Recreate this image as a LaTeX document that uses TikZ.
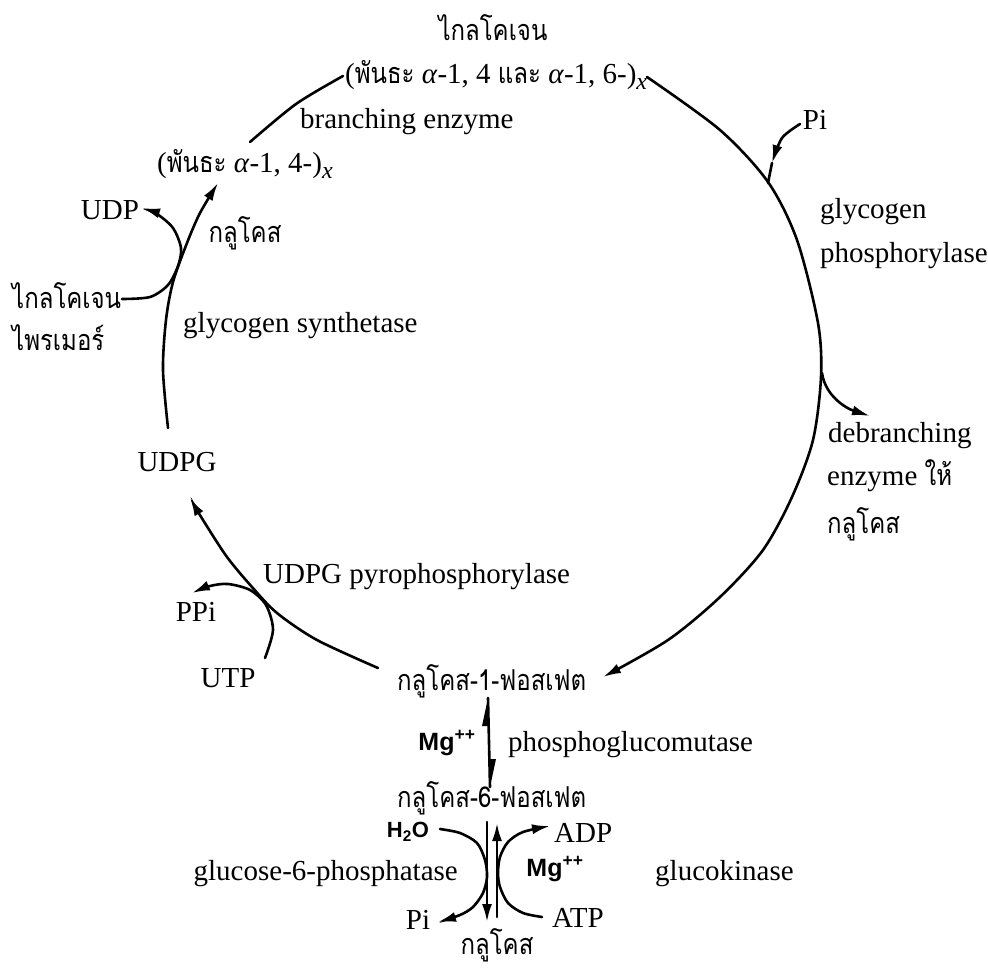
\documentclass[tikz,border=0pt]{standalone}
\usepackage{graphicx}
\usepackage{fontspec}
\setmainfont{Liberation Serif}
\newfontfamily\thai[Script=Thai]{Loma}
\newfontfamily\mgf{Liberation Sans}
\newcommand{\thtext}[1]{\scalebox{1}[1.2]{\thai\fontsize{24}{30}\selectfont #1}}
\usetikzlibrary{arrows.meta}
\begin{document}
\begin{tikzpicture}[x=1pt,y=-1pt,
  lbl/.style={inner sep=0pt, font=\fontsize{29}{34}\selectfont},
  th/.style={inner sep=0pt},
  mg/.style={inner sep=0pt, font=\mgf\bfseries\fontsize{25}{28}\selectfont},
  conn/.style={line width=2.6pt, line cap=round},
  arr/.style={conn, -{Latex[length=18pt,width=10pt]}}
  ]
\useasboundingbox (0,0) rectangle (988,967);

% ---- text nodes ----
\node[th] (glyc) at (493,28) {\thtext{ไกลโคเจน}};
\node[lbl, anchor=west] (bonds) at (345,75) {(\thtext{พันธะ} \textit{α}-1, 4 \thtext{และ} \textit{α}-1, 6-)\raisebox{-6pt}{\fontsize{24}{24}\selectfont\itshape x}};
\node[lbl, anchor=west] (branch) at (300,122) {branching enzyme};
\node[lbl, anchor=west] (bond14) at (157,164) {(\thtext{พันธะ} \textit{α}-1, 4-)\raisebox{-6pt}{\fontsize{24}{24}\selectfont\itshape x}};
\node[lbl] (udp) at (110,210) {UDP};
\node[th] (glc1) at (245,233) {\thtext{กลูโคส}};
\node[th, anchor=west] (primer1) at (12,296) {\thtext{ไกลโคเจน}};
\node[th, anchor=west] (primer2) at (12,338) {\thtext{ไพรเมอร์}};
\node[lbl, anchor=west] (gsyn) at (183,326) {glycogen synthetase};
\node[lbl] (udpg) at (177,462) {UDPG};
\node[lbl, anchor=west] (pyro) at (263,577) {UDPG pyrophosphorylase};
\node[lbl] (ppi) at (196,612) {PPi};
\node[lbl] (utp) at (228,678) {UTP};
\node[th, anchor=west] (g1p) at (397,681) {\thtext{กลูโคส-1-ฟอสเฟต}};
\node[mg] (mg1) at (447,743) {Mg\textsuperscript{++}};
\node[lbl, anchor=west] (pgm) at (508,745) {phosphoglucomutase};
\node[th, anchor=west] (g6p) at (397,798) {\thtext{กลูโคส-6-ฟอสเฟต}};
\node[mg, font=\mgf\bfseries\fontsize{22}{24}\selectfont] (h2o) at (408,832) {H\textsubscript{2}O};
\node[lbl, anchor=west] (adp) at (554,833) {ADP};
\node[lbl, anchor=east] (g6pase) at (458,874) {glucose-6-phosphatase};
\node[mg] (mg2) at (555,869) {Mg\textsuperscript{++}};
\node[lbl, anchor=west] (gk) at (655,874) {glucokinase};
\node[lbl] (pi2) at (418,920) {Pi};
\node[lbl, anchor=west] (atp) at (552,918) {ATP};
\node[th] (glc) at (497,945) {\thtext{กลูโคส}};
\node[lbl] (pi1) at (815,120) {Pi};
\node[lbl, anchor=west] (gp1) at (820,212) {glycogen};
\node[lbl, anchor=west] (gp2) at (820,256) {phosphorylase};
\node[lbl, anchor=west] (deb1) at (828,436) {debranching};
\node[lbl, anchor=west] (deb2) at (827,476) {enzyme \thtext{ให้}};
\node[th, anchor=west] (deb3) at (827,524) {\thtext{กลูโคส}};

% ---- connector end points ----
\coordinate (rA) at (647,77);
\coordinate (rZ) at (603,677);
\coordinate (lA) at (343,76);
\coordinate (lZ) at (250,142);
\coordinate (sA) at (168,428);
\coordinate (sZ) at (218,183);
\coordinate (pA) at (378,668);
\coordinate (pZ) at (190,498);
\coordinate (piA) at (800,124);
\coordinate (piM) at (772,163);
\coordinate (piZ) at (768,183);
\coordinate (dA) at (822,373);
\coordinate (dZ) at (870,416);
\coordinate (uA) at (122,299);
\coordinate (uZ) at (142,208);
\coordinate (tA) at (265,658);
\coordinate (tZ) at (192,593);
\coordinate (mT) at (488,698);
\coordinate (mB) at (490,787);

% ---- main cycle ----
\draw[arr] plot[smooth] coordinates {(rA) (720,130) (768,182) (797,240) (818,323) (821,377) (813,440) (792,497) (763,550) (720,597) (668,640) (rZ)};
\draw[conn] plot[smooth] coordinates {(lA) (296,104) (lZ)};
\draw[arr] plot[smooth] coordinates {(sA) (163,370) (166,320) (173,282) (187,243) (200,213) (sZ)};
\draw[arr] plot[smooth] coordinates {(pA) (317,640) (277,613) (252,587) (227,557) (203,520) (pZ)};

% ---- side branches ----
\draw[arr] plot[smooth] coordinates {(piA) (782,138) (piM)};
\draw[conn] (piM) -- (piZ);
\draw[arr] (dA) .. controls (825,395) and (845,408) .. (dZ);
\draw[arr] plot[smooth] coordinates {(uA) (150,297) (168,285) (178,266) (181,248) (173,228) (157,214) (uZ)};
\draw[arr] plot[smooth] coordinates {(tA) (273,630) (266,605) (250,590) (228,584) (210,586) (tZ)};

% ---- lower part ----
\draw[conn] (mT) -- (mB);
\fill (mT) -- ++(-6,28) -- ++(6,0) -- cycle;
\fill (mB) -- ++(6,-28) -- ++(-6,0) -- cycle;
\draw[arr] (487,822) -- (487,922);
\draw[arr] (497,917) -- (497,823);
\draw[arr] plot[smooth] coordinates {(440,829) (460,833) (477,843) (485,860) (487,877) (483,893) (473,907) (460,915) (438,922)};
\draw[arr] plot[smooth] coordinates {(542,917) (523,913) (508,903) (500,887) (498,873) (500,857) (508,842) (523,832) (550,826)};
\end{tikzpicture}
\end{document}
